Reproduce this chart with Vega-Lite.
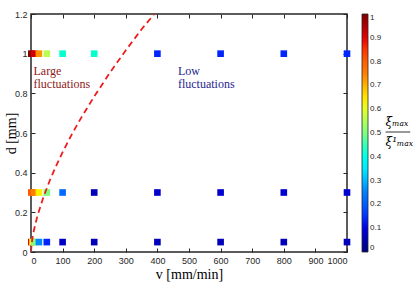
{
  "$schema": "https://vega.github.io/schema/vega-lite/v6.json",
  "width": 316,
  "height": 238,
  "autosize": "none",
  "padding": {"left": 31, "top": 14, "right": 68, "bottom": 32},
  "background": "white",
  "datasets": {
    "pts": [
      {"v": 1, "d": 1.0, "xi": 0.99}, {"v": 10, "d": 1.0, "xi": 0.92}, {"v": 25, "d": 1.0, "xi": 0.73}, {"v": 50, "d": 1.0, "xi": 0.56},
      {"v": 100, "d": 1.0, "xi": 0.43}, {"v": 200, "d": 1.0, "xi": 0.43}, {"v": 400, "d": 1.0, "xi": 0.14}, {"v": 600, "d": 1.0, "xi": 0.14},
      {"v": 800, "d": 1.0, "xi": 0.14}, {"v": 1000, "d": 1.0, "xi": 0.14},
      {"v": 1, "d": 0.3, "xi": 0.81}, {"v": 10, "d": 0.3, "xi": 0.75}, {"v": 25, "d": 0.3, "xi": 0.64}, {"v": 50, "d": 0.3, "xi": 0.5},
      {"v": 100, "d": 0.3, "xi": 0.22}, {"v": 200, "d": 0.3, "xi": 0.06}, {"v": 400, "d": 0.3, "xi": 0.08}, {"v": 600, "d": 0.3, "xi": 0.08},
      {"v": 800, "d": 0.3, "xi": 0.08}, {"v": 1000, "d": 0.3, "xi": 0.08},
      {"v": 1, "d": 0.05, "xi": 0.89}, {"v": 5, "d": 0.05, "xi": 0.62}, {"v": 10, "d": 0.05, "xi": 0.5}, {"v": 25, "d": 0.05, "xi": 0.26},
      {"v": 50, "d": 0.05, "xi": 0.14}, {"v": 100, "d": 0.05, "xi": 0.07}, {"v": 200, "d": 0.05, "xi": 0.06}, {"v": 400, "d": 0.05, "xi": 0.06},
      {"v": 600, "d": 0.05, "xi": 0.06}, {"v": 800, "d": 0.05, "xi": 0.06}, {"v": 1000, "d": 0.05, "xi": 0.06}
    ],
    "curve": [
      {"v": 0, "d": 0}, {"v": 2, "d": 0.041}, {"v": 5, "d": 0.074}, {"v": 10, "d": 0.115}, {"v": 20, "d": 0.18},
      {"v": 40, "d": 0.28}, {"v": 60, "d": 0.363}, {"v": 80, "d": 0.436}, {"v": 100, "d": 0.503}, {"v": 130, "d": 0.596},
      {"v": 160, "d": 0.68}, {"v": 200, "d": 0.784}, {"v": 250, "d": 0.905}, {"v": 300, "d": 1.017}, {"v": 350, "d": 1.123},
      {"v": 390, "d": 1.2}
    ],
    "notesL": [
      {"v": 8, "d": 0.915, "label": "Large"}, {"v": 8, "d": 0.845, "label": "fluctuations"}
    ],
    "notesR": [
      {"v": 465, "d": 0.915, "label": "Low"}, {"v": 465, "d": 0.845, "label": "fluctuations"}
    ],
    "frac": [
      {"v": 1122, "d": 0.655, "label": "ξₘₐₓ"}, {"v": 1122, "d": 0.555, "label": "ξ¹ₘₐₓ"}
    ],
    "fracline": [
      {"v": 1122, "v2": 1200, "d": 0.605}
    ]
  },
  "config": {
    "view": {"stroke": "#262626", "strokeWidth": 1.5},
    "axis": {
      "domain": false,
      "grid": false,
      "tickColor": "#262626",
      "tickSize": -4,
      "tickWidth": 1,
      "labelFont": "Liberation Sans",
      "labelFontSize": 9,
      "labelColor": "#262626",
      "labelPadding": 8,
      "titleFont": "Liberation Serif",
      "titleFontSize": 14,
      "titleFontWeight": "normal",
      "titleColor": "#000000"
    },
    "legend": {
      "orient": "right",
      "offset": 14,
      "padding": 0,
      "gradientLength": 238,
      "gradientThickness": 6,
      "gradientStrokeColor": "#262626",
      "gradientStrokeWidth": 0.8,
      "labelFont": "Liberation Sans",
      "labelFontSize": 8,
      "labelColor": "#262626",
      "labelOffset": 4
    }
  },
  "layer": [
    {
      "data": {"name": "pts"},
      "mark": {"type": "square", "size": 44, "opacity": 1},
      "encoding": {
        "x": {"field": "v", "type": "quantitative", "scale": {"domain": [0, 1000], "nice": false},
              "axis": {"orient": "bottom", "values": [0,100,200,300,400,500,600,700,800,900,1000], "format": "d", "title": "v [mm/min]", "titlePadding": 2}},
        "y": {"field": "d", "type": "quantitative", "scale": {"domain": [0, 1.2], "nice": false},
              "axis": {"orient": "left", "values": [0,0.2,0.4,0.6,0.8,1,1.2], "format": "~g", "title": "d [mm]", "titleX": -13}},
        "color": {"field": "xi", "type": "quantitative",
                  "scale": {"domain": [0,0.125,0.25,0.375,0.5,0.625,0.75,0.875,1],
                            "range": ["#00007f","#0000ff","#007fff","#00ffff","#7fff7f","#ffff00","#ff7f00","#ff0000","#7f0000"]},
                  "legend": {"values": [0,0.1,0.2,0.3,0.4,0.5,0.6,0.7,0.8,0.9,1], "format": "~g", "title": null}}
      }
    },
    {
      "data": {"name": "curve"},
      "mark": {"type": "line", "color": "#ee1c1c", "strokeDash": [6, 4], "strokeWidth": 1.8, "clip": true},
      "encoding": {
        "x": {"field": "v", "type": "quantitative", "axis": {"orient": "top", "labels": false, "title": null, "values": [0,100,200,300,400,500,600,700,800,900,1000]}},
        "y": {"field": "d", "type": "quantitative", "axis": {"orient": "right", "labels": false, "title": null, "values": [0,0.2,0.4,0.6,0.8,1,1.2]}}
      }
    },
    {
      "data": {"name": "notesL"},
      "mark": {"type": "text", "align": "left", "baseline": "middle", "font": "Liberation Serif", "fontSize": 12, "color": "#8c1a1a"},
      "encoding": {
        "x": {"field": "v", "type": "quantitative", "axis": null},
        "y": {"field": "d", "type": "quantitative", "axis": null},
        "text": {"field": "label"}
      }
    },
    {
      "data": {"name": "notesR"},
      "mark": {"type": "text", "align": "left", "baseline": "middle", "font": "Liberation Serif", "fontSize": 12, "color": "#1e1e8f"},
      "encoding": {
        "x": {"field": "v", "type": "quantitative", "axis": null},
        "y": {"field": "d", "type": "quantitative", "axis": null},
        "text": {"field": "label"}
      }
    },
    {
      "data": {"name": "frac"},
      "mark": {"type": "text", "align": "left", "baseline": "middle", "font": "DejaVu Serif", "fontStyle": "italic", "fontSize": 12, "color": "#000000"},
      "encoding": {
        "x": {"field": "v", "type": "quantitative", "axis": null},
        "y": {"field": "d", "type": "quantitative", "axis": null},
        "text": {"field": "label"}
      }
    },
    {
      "data": {"name": "fracline"},
      "mark": {"type": "rule", "color": "#000000", "strokeWidth": 0.8},
      "encoding": {
        "x": {"field": "v", "type": "quantitative", "axis": null},
        "x2": {"field": "v2"},
        "y": {"field": "d", "type": "quantitative", "axis": null}
      }
    }
  ],
  "resolve": {"axis": {"x": "independent", "y": "independent"}}
}
